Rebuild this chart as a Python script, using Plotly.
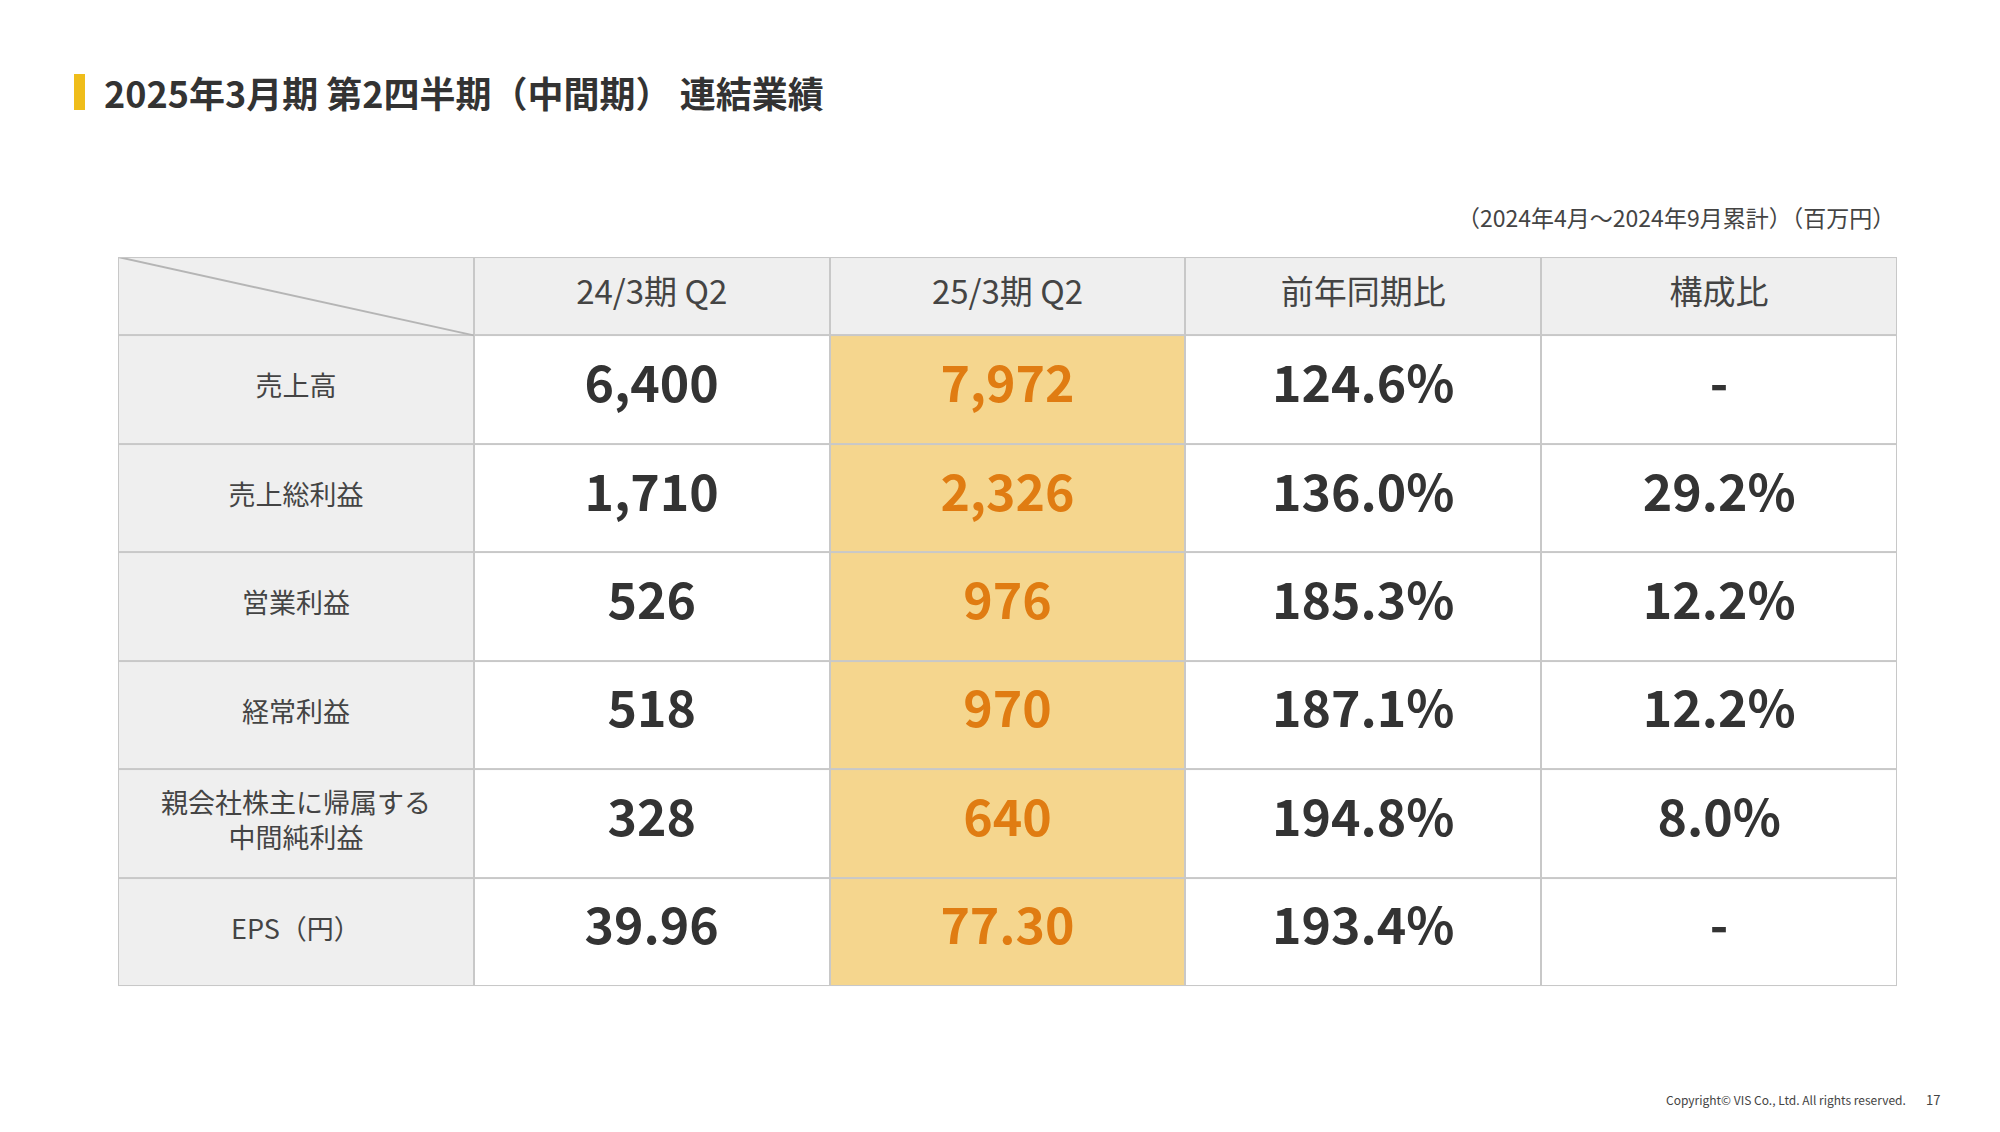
import plotly.graph_objects as go

columns = ["24/3期 Q2", "25/3期 Q2", "前年同期比", "構成比"]
rows = ["売上高", "売上総利益", "営業利益", "経常利益", "親会社株主に帰属する<br>中間純利益", "EPS（円）"]
prev = ["6,400", "1,710", "526", "518", "328", "39.96"]
curr = ["7,972", "2,326", "976", "970", "640", "77.30"]
yoy = ["124.6%", "136.0%", "185.3%", "187.1%", "194.8%", "193.4%"]
comp = ["-", "29.2%", "12.2%", "12.2%", "8.0%", "-"]

FONT = "Noto Sans CJK JP"
HEAD_H, ROW_H = 78, 108
y_edges = [0, HEAD_H] + [HEAD_H + ROW_H * (i + 1) for i in range(len(rows))]
y_centers = [(y_edges[i] + y_edges[i + 1]) / 2 for i in range(len(y_edges) - 1)]
x_edges = list(range(6))
x_centers = [i + 0.5 for i in range(5)]

z = [[0] * 5] + [[0, 1, 2, 1, 1] for _ in rows]

fig = go.Figure()
fig.add_trace(go.Heatmap(z=z, x=x_edges, y=y_edges, xgap=2, ygap=2, showscale=False,
                         colorscale=[[0, "#efefef"], [0.5, "#ffffff"], [1, "#f5d68e"]],
                         zmin=0, zmax=2, hoverinfo="skip"))
# diagonal in corner
fig.add_trace(go.Scatter(x=[0, 1], y=[0, HEAD_H], mode="lines",
                         line=dict(color="#b5b5b5", width=2), hoverinfo="skip"))
# header
fig.add_trace(go.Scatter(x=x_centers[1:], y=[y_centers[0]] * 4, mode="text", text=columns,
                         textfont=dict(family=FONT, size=33, color="#444")))
# row labels
fig.add_trace(go.Scatter(x=[0.5] * len(rows), y=y_centers[1:], mode="text", text=rows,
                         textfont=dict(family=FONT, size=27, color="#444")))
for ci, (vals, col) in enumerate([(prev, "#333"), (curr, "#e07c12"), (yoy, "#333"), (comp, "#333")]):
    fig.add_trace(go.Scatter(x=[x_centers[ci + 1]] * len(vals), y=y_centers[1:], mode="text",
                             text=["<b>%s</b>" % v for v in vals],
                             textfont=dict(family=FONT, size=50, color=col)))

fig.update_layout(
    width=2000, height=1132, margin=dict(l=0, r=0, t=0, b=0),
    paper_bgcolor="white", plot_bgcolor="#c8c8c8", showlegend=False,
    xaxis=dict(domain=[0.055, 0.9445], range=[0, 5], visible=False, fixedrange=True),
    yaxis=dict(domain=[0.136, 0.78], range=[y_edges[-1], 0], visible=False, fixedrange=True),
    shapes=[
        dict(type="rect", xref="x", yref="y", x0=0, x1=5, y0=0, y1=y_edges[-1],
             line=dict(color="#c8c8c8", width=2)),
        dict(type="rect", xref="paper", yref="paper", x0=0.033, x1=0.0385, y0=1 - 102 / 1132, y1=1 - 66 / 1132,
             fillcolor="#efbd1a", line=dict(width=0)),
    ],
    annotations=[
        dict(text="<b>2025年3月期 第2四半期（中間期） 連結業績</b>", x=0.047, y=1 - 84 / 1132,
             xref="paper", yref="paper", xanchor="left", yanchor="middle", showarrow=False,
             font=dict(family=FONT, size=36, color="#333")),
        dict(text="（2024年4月～2024年9月累計）（百万円）", x=0.9445, y=1 - 209 / 1132,
             xref="paper", yref="paper", xanchor="right", yanchor="middle", showarrow=False,
             font=dict(family=FONT, size=23, color="#444")),
        dict(text="Copyright© VIS Co., Ltd. All rights reserved.", x=0.95, y=1 - 1091 / 1132,
             xref="paper", yref="paper", xanchor="right", yanchor="middle", showarrow=False,
             font=dict(family=FONT, size=12, color="#444")),
        dict(text="17", x=0.967, y=1 - 1091 / 1132,
             xref="paper", yref="paper", xanchor="right", yanchor="middle", showarrow=False,
             font=dict(family=FONT, size=13, color="#444")),
    ],
)
fig.write_html("out.html")
